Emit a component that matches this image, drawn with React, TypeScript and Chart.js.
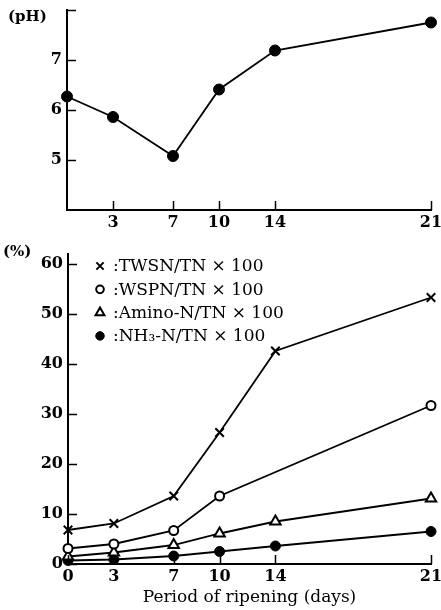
import { useEffect, useRef } from 'react';
import { Chart, registerables, LinearScale } from 'chart.js';
import { drawPoint } from 'chart.js/helpers';

// ---------------- data ----------------
const days = [0, 3, 7, 10, 14, 21];
const pHValues = [6.27, 5.86, 5.08, 6.41, 7.19, 7.75];

const twsnValues = [6.8, 8.1, 13.6, 26.3, 42.6, 53.3];
const wspnDays = [0, 3, 7, 10, 21];
const wspnValues = [3.1, 4.0, 6.7, 13.6, 31.7];
const aminoValues = [1.5, 2.3, 3.8, 6.1, 8.5, 13.1];
const nh3Values = [0.7, 0.9, 1.6, 2.5, 3.6, 6.5];

const topXTicks = [3, 7, 10, 14, 21];
const bottomXTicks = [0, 3, 7, 10, 14, 21];
const pHTicks = [5, 6, 7, 8];
const pHTickLabels = ['5', '6', '7', ''];
const pctTicks = [0, 10, 20, 30, 40, 50, 60];

const legendLabels = [
  ':TWSN/TN × 100',
  ':WSPN/TN × 100',
  ':Amino-N/TN × 100',
  ':NH₃-N/TN × 100',
];
const xTitle = 'Period of ripening (days)';
const topUnit = '(pH)';
const bottomUnit = '(%)';

// axis geometry of the original (non-uniform day spacing)
const X_KNOTS = [0, 3, 7, 10, 14, 21];
const X_FRACS = [0, 0.1264, 0.2912, 0.4176, 0.5714, 1];

const SERIF = "'DejaVu Serif', 'Liberation Serif', serif";

class RipeningScale extends LinearScale {
  static id = 'ripening';
  static defaults = LinearScale.defaults;
  toDec(v: number) {
    const k = X_KNOTS, f = X_FRACS;
    for (let i = 1; i < k.length; i++) {
      if (v <= k[i] || i === k.length - 1) {
        return f[i - 1] + ((v - k[i - 1]) / (k[i] - k[i - 1])) * (f[i] - f[i - 1]);
      }
    }
    return 0;
  }
  getPixelForValue(value: any) {
    if (value === null || value === undefined || isNaN(value)) return NaN;
    return this.getPixelForDecimal(this.toDec(value));
  }
  getValueForPixel(pixel: number) {
    const d = this.getDecimalForPixel(pixel);
    const k = X_KNOTS, f = X_FRACS;
    for (let i = 1; i < k.length; i++) {
      if (d <= f[i] || i === k.length - 1) {
        return k[i - 1] + ((d - f[i - 1]) / (f[i] - f[i - 1])) * (k[i] - k[i - 1]);
      }
    }
    return 0;
  }
}

Chart.register(...registerables, RipeningScale);

const tickFont = { family: SERIF, size: 16, weight: 'bold' as const };

function axisCommon() {
  return {
    border: { display: true, color: '#000', width: 2 },
    grid: { display: false, drawTicks: false, drawOnChartArea: false },
  };
}

function xAxis(tickValues: number[], height: number, withTitle: boolean) {
  return {
    type: 'ripening',
    min: 0,
    max: 21,
    ...axisCommon(),
    ticks: { color: '#000', font: tickFont, padding: 3, maxRotation: 0, autoSkip: false },
    afterBuildTicks: (s: any) => {
      s.ticks = tickValues.map((v) => ({ value: v }));
    },
    afterFit: (s: any) => {
      s.height = height;
      s.paddingLeft = 0;
      s.paddingRight = 0;
    },
    title: withTitle
      ? {
          display: true,
          text: xTitle,
          color: '#000',
          font: { family: SERIF, size: 17 },
          padding: { top: 0, bottom: 2 },
        }
      : { display: false },
  };
}

function yAxis(min: number, max: number, tickValues: number[], labels: string[], width: number) {
  return {
    type: 'linear',
    min,
    max,
    ...axisCommon(),
    ticks: {
      color: '#000',
      font: tickFont,
      padding: 5,
      autoSkip: false,
      callback: (v: any) => {
        const i = tickValues.indexOf(Number(v));
        return i >= 0 ? labels[i] : '';
      },
    },
    afterBuildTicks: (s: any) => {
      s.ticks = tickValues.map((v) => ({ value: v }));
    },
    afterFit: (s: any) => {
      s.width = width;
      s.paddingTop = 0;
      s.paddingBottom = 0;
    },
  };
}

// short tick marks pointing into the plot, as in the original figure
const inwardTicks = {
  id: 'inwardTicks',
  afterDraw(chart: any) {
    const ctx = chart.ctx;
    const xs = chart.scales.x;
    const ys = chart.scales.y;
    ctx.save();
    ctx.strokeStyle = '#000';
    ctx.lineWidth = 1.5;
    ctx.beginPath();
    xs.ticks.forEach((_t: any, i: number) => {
      const px = Math.round(xs.getPixelForTick(i)) + 0.5;
      ctx.moveTo(px, xs.top);
      ctx.lineTo(px, xs.top - 9);
    });
    ys.ticks.forEach((_t: any, i: number) => {
      const py = Math.round(ys.getPixelForTick(i)) + 0.5;
      ctx.moveTo(ys.right, py);
      ctx.lineTo(ys.right + 9, py);
    });
    ctx.stroke();
    ctx.restore();
  },
};

const unitPlugin = (text: string, x: number, y: number) => ({
  id: 'unitLabel',
  afterDraw(chart: any) {
    const ctx = chart.ctx;
    ctx.save();
    ctx.fillStyle = '#000';
    ctx.font = `bold 15px ${SERIF}`;
    ctx.textBaseline = 'middle';
    ctx.textAlign = 'left';
    ctx.fillText(text, x, y);
    ctx.restore();
  },
});

const inlineLegend = {
  id: 'inlineLegend',
  afterDatasetsDraw(chart: any) {
    const ctx = chart.ctx;
    const { left, top } = chart.chartArea;
    chart.data.datasets.forEach((ds: any, i: number) => {
      const x = left + 32;
      const y = top + 12 + i * 23.3;
      ctx.save();
      ctx.strokeStyle = '#000';
      ctx.fillStyle = ds.pointBackgroundColor;
      ctx.lineWidth = ds.pointBorderWidth;
      drawPoint(
        ctx,
        { pointStyle: ds.pointStyle, radius: ds.pointRadius * 0.85, rotation: 0, borderWidth: ds.pointBorderWidth },
        x,
        y
      );
      ctx.fillStyle = '#000';
      ctx.font = `17px ${SERIF}`;
      ctx.textBaseline = 'middle';
      ctx.textAlign = 'left';
      ctx.fillText(legendLabels[i], x + 13, y + 1);
      ctx.restore();
    });
  },
};

function series(xs: number[], ys: number[]) {
  return xs.map((x, i) => ({ x, y: ys[i] }));
}

export default function App() {
  const topRef = useRef<HTMLCanvasElement>(null);
  const botRef = useRef<HTMLCanvasElement>(null);

  useEffect(() => {
    const lineBase = { borderColor: '#000', borderWidth: 1.8, tension: 0, clip: false as any, pointBorderColor: '#000' };

    const top = new Chart(topRef.current!, {
      type: 'line',
      data: {
        datasets: [
          {
            ...lineBase,
            label: 'pH',
            data: series(days, pHValues),
            pointStyle: 'circle',
            pointRadius: 5.5,
            pointBackgroundColor: '#000',
            pointBorderWidth: 1,
          },
        ],
      },
      options: {
        animation: false,
        responsive: false,
        devicePixelRatio: 1,
        layout: { padding: { top: 10, right: 10, left: 0, bottom: 0 } },
        plugins: { legend: { display: false }, tooltip: { enabled: false } },
        scales: {
          x: xAxis(topXTicks, 30, false) as any,
          y: yAxis(4, 8, pHTicks, pHTickLabels, 67) as any,
        },
      },
      plugins: [inwardTicks, unitPlugin(topUnit, 8, 17)],
    });

    const bottom = new Chart(botRef.current!, {
      type: 'line',
      data: {
        datasets: [
          {
            ...lineBase,
            label: 'TWSN/TN×100',
            data: series(days, twsnValues),
            pointStyle: 'crossRot',
            pointRadius: 6,
            pointBackgroundColor: '#fff',
            pointBorderWidth: 2,
          },
          {
            ...lineBase,
            label: 'WSPN/TN×100',
            data: series(wspnDays, wspnValues),
            pointStyle: 'circle',
            pointRadius: 4.5,
            pointBackgroundColor: '#fff',
            pointBorderWidth: 2,
          },
          {
            ...lineBase,
            label: 'Amino-N/TN×100',
            data: series(days, aminoValues),
            pointStyle: 'triangle',
            pointRadius: 6,
            pointBackgroundColor: '#fff',
            pointBorderWidth: 2,
          },
          {
            ...lineBase,
            label: 'NH3-N/TN×100',
            data: series(days, nh3Values),
            pointStyle: 'circle',
            pointRadius: 5,
            pointBackgroundColor: '#000',
            pointBorderWidth: 1,
          },
        ],
      },
      options: {
        animation: false,
        responsive: false,
        devicePixelRatio: 1,
        layout: { padding: { top: 14, right: 10, left: 0, bottom: 0 } },
        plugins: { legend: { display: false }, tooltip: { enabled: false } },
        scales: {
          x: xAxis(bottomXTicks, 46, true) as any,
          y: yAxis(0, 62, pctTicks, pctTicks.map(String), 68) as any,
        },
      },
      plugins: [inwardTicks, inlineLegend, unitPlugin(bottomUnit, 3, 12)],
    });

    return () => {
      top.destroy();
      bottom.destroy();
    };
  }, []);

  return (
    <div style={{ position: 'absolute', left: 0, top: 0, width: 441, height: 610, background: '#fff' }}>
      <canvas ref={topRef} width={441} height={240} style={{ position: 'absolute', left: 0, top: 0 }} />
      <canvas ref={botRef} width={441} height={370} style={{ position: 'absolute', left: 0, top: 240 }} />
    </div>
  );
}
